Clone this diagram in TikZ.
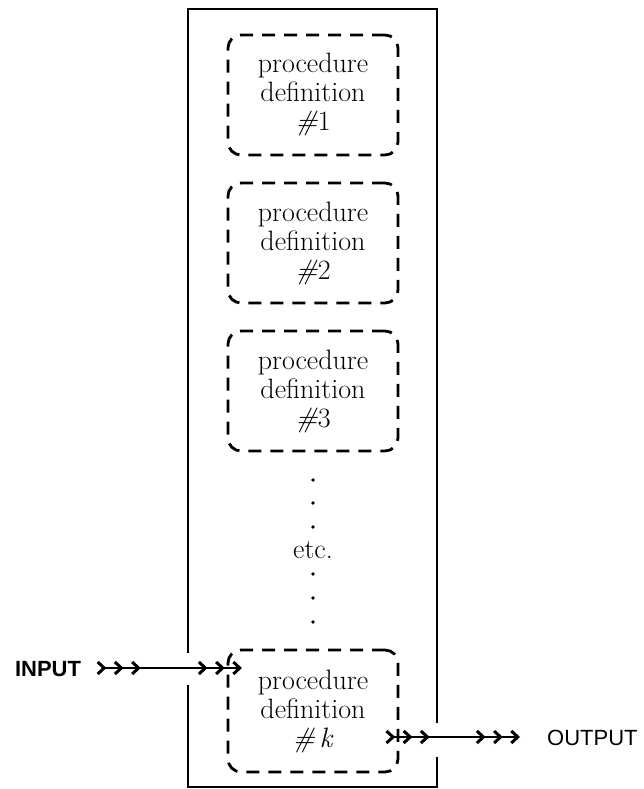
\documentclass[tikz,border=0pt]{standalone}
\usepackage{fontspec}
\newfontfamily\lsans{Liberation Sans}
\usetikzlibrary{arrows.meta}
\tikzset{
  procbox/.style={draw, line width=2.8pt, dash pattern=on 13pt off 9pt,
    rounded corners=13pt, minimum width=170pt, minimum height=120pt,
    align=center, inner sep=0pt, font=\fontsize{28}{29}\selectfont},
  wall/.style={line width=2.8pt},
  flow/.style={line width=1.6pt,
    arrows={Straight Barb[reversed,length=6.5pt,width=12pt,line width'=3pt,sep=7pt]Straight Barb[reversed,length=6.5pt,width=12pt,line width'=3pt,sep=7pt]Straight Barb[reversed,length=6.5pt,width=12pt,line width'=3pt,sep=7pt]-Straight Barb[length=6.5pt,width=12pt,line width'=3pt,sep=7pt]Straight Barb[length=6.5pt,width=12pt,line width'=3pt,sep=7pt]Straight Barb[length=6.5pt,width=12pt,line width'=3pt,sep=7pt]}},
  lab/.style={font=\lsans\fontsize{22}{22}\selectfont, text height=16pt, text depth=0pt, inner ysep=0pt},
  dotmark/.style={circle, fill, inner sep=0pt, minimum size=3.6pt},
  etcstyle/.style={font=\fontsize{28}{28}\selectfont, inner sep=0pt}
}
\begin{document}
\begin{tikzpicture}[x=1pt,y=-1pt]
\useasboundingbox (0,0) rectangle (643,789);
% outer frame with openings
\draw[wall] (188,653) -- (188,9) -- (437,9) -- (437,723);
\draw[wall] (188,685) -- (188,787) -- (437,787) -- (437,757);
% procedure boxes
\node[procbox] (b1) at (313,95) {procedure\\definition\\\textit{\#}1};
\node[procbox] (b2) at (313,243) {procedure\\definition\\\textit{\#}2};
\node[procbox] (b3) at (313,391) {procedure\\definition\\\textit{\#}3};
\node[procbox, minimum height=122pt] (bk) at (313,711) {procedure\\definition\\\textit{\#\,k}};
% dots and etc.
\node[dotmark] (d1) at (313,480) {};
\node[dotmark] (d2) at (313,503) {};
\node[dotmark] (d3) at (313,527) {};
\node[etcstyle, anchor=base] (etc) at (313,558) {etc.};
\node[dotmark] (d4) at (313,574) {};
\node[dotmark] (d5) at (313,598) {};
\node[dotmark] (d6) at (313,622) {};
% input / output
\node[lab, font=\lsans\bfseries\fontsize{22}{22}\selectfont, inner xsep=8pt] (inp) at (48,668) {INPUT};
\coordinate (iend) at (249,668);
\draw[flow] (inp) -- (iend);
\coordinate (ostart) at (378,737);
\node[lab, anchor=west, inner xsep=20pt] (outp) at (527,737) {OUTPUT};
\draw[flow] (ostart) -- (outp);
\end{tikzpicture}
\end{document}
